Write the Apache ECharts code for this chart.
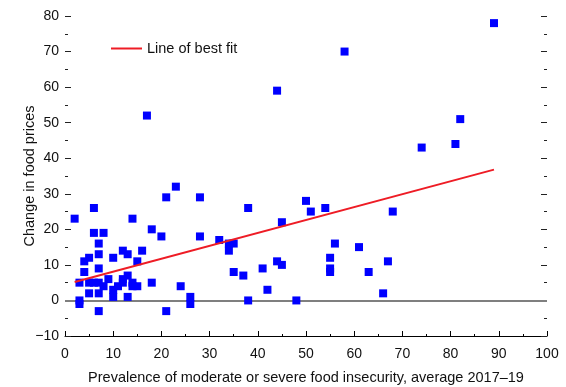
<!DOCTYPE html>
<html>
<head>
<meta charset="utf-8">
<script src="https://cdn.jsdelivr.net/npm/echarts@6/dist/echarts.min.js"></script>
<style>
html, body { margin: 0; padding: 0; background: #fff; }
#main { width: 566px; height: 387px; }
</style>
</head>
<body>
<div id="main"></div>
<script>
// 散点数据：[粮食不安全比例, 食品价格变化]
var insecurity = [2, 3, 3, 3, 4, 4, 5, 5, 5, 6, 6, 6, 7, 7, 7, 7, 7, 7, 8, 8, 9, 10, 10, 10, 11, 12, 12, 12,
    13, 13, 13, 14, 14, 14, 15, 15, 16, 17, 18, 18, 20, 21, 21, 23, 24, 26, 26, 28, 28, 32, 34, 35, 34,
    35, 37, 38, 38, 41, 42, 44, 44, 45, 45, 48, 50, 51, 54, 55, 55, 55, 56, 58, 61, 63, 66, 67, 68, 74, 81, 82, 89]
var priceChange = [23, 0, -1, 5, 11, 8, 12, 5, 2, 26, 19, 5, 16, 13, 9, 5, 2, -3, 19, 4, 6, 12, 3, 1, 4, 14, 6, 5,
    13, 7, 1, 23, 5, 4, 11, 4, 14, 52, 20, 5, 18, 29, -3, 32, 4, 1, -1, 29, 18, 17, 16, 16, 14,
    8, 7, 26, 0, 9, 3, 59, 11, 22, 10, 0, 28, 25, 26, 12, 9, 8, 16, 70, 15, 8, 2, 11, 25, 43, 44, 51, 78]
// 拟合直线两端
var fitX = [2, 89]
var fitY = [5.2, 36.8]

var xTicks = { min: 0, max: 100, step: 10 }
var yTicks = { min: -10, max: 80, step: 10 }

var points = []
for (var i = 0; i < insecurity.length; i++) {
    points.push([insecurity[i], priceChange[i]])
}
var fitLine = [[fitX[0], fitY[0]], [fitX[1], fitY[1]]]

var font = 'Liberation Sans, Arial, sans-serif'
var myChart = echarts.init(document.getElementById('main'), null, { renderer: 'canvas' })

function yAxisOf(pos, labels) {
    return {
        type: 'value',
        position: pos,
        min: yTicks.min,
        max: yTicks.max,
        interval: yTicks.step,
        name: labels ? 'Change in food prices' : '',
        nameLocation: 'middle',
        nameGap: 28,
        nameMoveOverlap: false,
        nameTextStyle: { color: '#111', fontSize: 14.5, fontFamily: font },
        axisLine: { show: false },
        axisTick: { show: true, inside: true, length: 6, lineStyle: { color: '#222' } },
        minorTick: { show: true, splitNumber: 2, length: 3, lineStyle: { color: '#222' } },
        splitLine: { show: false },
        axisLabel: {
            show: labels, color: '#111', fontSize: 14, fontFamily: font, margin: 6,
            formatter: function (v) { return v < 0 ? '\u2212' + Math.abs(v) : v }
        }
    }
}

var option = {
    animation: false,
    backgroundColor: '#fff',
    grid: { left: 65, right: 19, top: 16, bottom: 51, outerBoundsMode: 'none' },
    legend: {
        left: 106,
        top: 36,
        data: ['Line of best fit'],
        icon: 'rect',
        itemWidth: 31,
        itemHeight: 2,
        itemGap: 5,
        textStyle: { color: '#111', fontSize: 14.5, fontFamily: font }
    },
    xAxis: {
        type: 'value',
        min: xTicks.min,
        max: xTicks.max,
        interval: xTicks.step,
        name: 'Prevalence of moderate or severe food insecurity, average 2017\u201319',
        nameLocation: 'middle',
        nameGap: 34,
        nameMoveOverlap: false,
        nameTextStyle: { color: '#111', fontSize: 14.5, fontFamily: font },
        axisLine: { show: true, onZero: false, lineStyle: { color: '#000', width: 1 } },
        axisTick: { show: true, inside: true, length: 5, lineStyle: { color: '#000' } },
        minorTick: { show: true, splitNumber: 2, length: 2, lineStyle: { color: '#000' } },
        splitLine: { show: false },
        axisLabel: { color: '#111', fontSize: 14, fontFamily: font, margin: 11 }
    },
    yAxis: [yAxisOf('left', true), yAxisOf('right', false)],
    series: [
        {
            name: 'points',
            type: 'scatter',
            symbol: 'rect',
            symbolSize: 8,
            itemStyle: { color: '#0000ff', opacity: 1 },
            data: points,
            z: 3,
            markLine: {
                silent: true,
                symbol: 'none',
                label: { show: false },
                lineStyle: { color: '#7f7f7f', width: 2, type: 'solid' },
                data: [{ yAxis: 0 }],
                z: 2
            }
        },
        {
            name: 'Line of best fit',
            type: 'line',
            data: fitLine,
            symbol: 'none',
            showSymbol: false,
            lineStyle: { color: '#ee1c25', width: 2 },
            itemStyle: { color: '#ee1c25' },
            z: 4
        }
    ]
}

myChart.setOption(option)
</script>
</body>
</html>
